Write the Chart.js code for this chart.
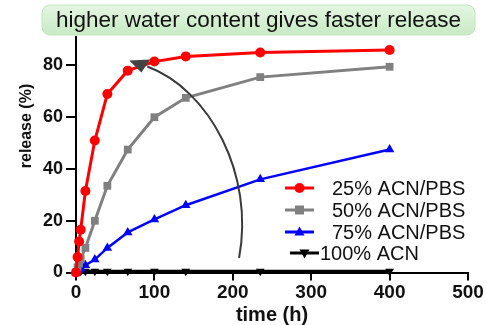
<!DOCTYPE html>
<html>
<head>
<meta charset="utf-8">
<script src="https://cdn.jsdelivr.net/npm/chart.js@4/dist/chart.umd.min.js"></script>
<style>
  html, body { margin: 0; padding: 0; background: #fff; }
  #wrap { width: 487px; height: 325px; }
</style>
</head>
<body>
<div id="wrap"><canvas id="c" width="487" height="325"></canvas></div>
<script>
// sampling times (h)
const times = [0, 2, 4, 6, 12, 24, 40, 66, 100, 140, 235, 400];
// cumulative release (%) per solvent composition
const acn25 = [0, 6, 12, 16.5, 31.5, 51, 69, 78, 81.5, 83.5, 85, 86];
const acn50 = [0, 2, 3.5, 5.3, 9.5, 20, 33.5, 47.5, 60, 67.5, 75.5, 79.5];
const acn75 = [0, 0.5, 1, 1.5, 2.8, 5, 9.5, 15.5, 20.5, 26, 36, 47.5];
const acn100 = [0.5, 0.5, 0.5, 0.5, 0.5, 0.5, 0.5, 0.5, 0.5, 0.5, 0.5, 0.5];
const seriesLabels = ['25% ACN/PBS', '50% ACN/PBS', '75% ACN/PBS', '100% ACN'];
const yTicks = [0, 20, 40, 60, 80];
const xTicks = [0, 100, 200, 300, 400, 500];
const headline = 'higher water content gives faster release';
const yTitle = 'release (%)';
// curved trend arrow (data units): start, two control points, end
const arrowPath = [[208, 5.6], [228, 38], [170, 70.7], [91, 79.6]];

const FONT = '"Liberation Sans", Arial, sans-serif';
const pts = arr => times.map((t, i) => ({ x: t, y: arr[i] }));

// green rounded banner above the plot, plus the vertical axis caption
const headlinePlugin = {
  id: 'headline',
  beforeDraw(chart) {
    const ctx = chart.ctx;
    const x = 42, y = 5, w = 433, h = 30, r = 8;
    ctx.save();
    const g = ctx.createLinearGradient(0, y, 0, y + h);
    g.addColorStop(0, '#e4f6e2');
    g.addColorStop(1, '#c8eac4');
    ctx.fillStyle = g;
    ctx.beginPath();
    ctx.roundRect(x, y, w, h, r);
    ctx.fill();
    ctx.strokeStyle = '#c2e4be';
    ctx.lineWidth = 1;
    ctx.stroke();
    ctx.fillStyle = '#111';
    ctx.font = '22.5px ' + FONT;
    ctx.textAlign = 'center';
    ctx.textBaseline = 'middle';
    ctx.fillText(headline, x + w / 2, y + h / 2 + 1);

    ctx.translate(27, 126);
    ctx.rotate(-Math.PI / 2);
    ctx.font = 'bold 16px ' + FONT;
    ctx.fillText(yTitle, 0, 0);
    ctx.restore();
  }
};

// dark curved arrow with a downward head
const arrowPlugin = {
  id: 'trendArrow',
  afterDatasetsDraw(chart) {
    const { ctx, scales: { x, y } } = chart;
    const p = arrowPath.map(([t, v]) => [x.getPixelForValue(t), y.getPixelForValue(v)]);
    ctx.save();
    ctx.strokeStyle = '#3a3a3a';
    ctx.lineWidth = 2;
    ctx.beginPath();
    ctx.moveTo(p[0][0], p[0][1]);
    ctx.bezierCurveTo(p[1][0], p[1][1], p[2][0], p[2][1], p[3][0], p[3][1]);
    ctx.stroke();
    // head
    const hx = p[3][0] - 7, hy = p[3][1] - 2;
    ctx.fillStyle = '#444';
    ctx.beginPath();
    ctx.moveTo(hx - 11, hy - 4);
    ctx.lineTo(hx + 10, hy - 5);
    ctx.lineTo(hx + 1, hy + 8);
    ctx.closePath();
    ctx.fill();
    ctx.restore();
  }
};

function drawMarker(ctx, style, cx, cy, r, color) {
  ctx.fillStyle = color;
  ctx.beginPath();
  if (style === 'circle') {
    ctx.arc(cx, cy, r, 0, Math.PI * 2);
  } else if (style === 'rect') {
    ctx.rect(cx - r, cy - r, 2 * r, 2 * r);
  } else if (style === 'triangle') {
    ctx.moveTo(cx, cy - r * 1.1);
    ctx.lineTo(cx + r, cy + r * 0.7);
    ctx.lineTo(cx - r, cy + r * 0.7);
  } else {
    ctx.moveTo(cx, cy + r * 1.1);
    ctx.lineTo(cx + r, cy - r * 0.7);
    ctx.lineTo(cx - r, cy - r * 0.7);
  }
  ctx.closePath();
  ctx.fill();
}

// legend inside the plot, lower right
const legendPlugin = {
  id: 'insetLegend',
  afterDraw(chart) {
    const ctx = chart.ctx;
    const rows = [188, 210, 232, 253];
    const lineStart = [285, 285, 285, 290];
    const textStart = [332, 332, 332, 320];
    ctx.save();
    ctx.font = '20px ' + FONT;
    ctx.textBaseline = 'middle';
    ctx.textAlign = 'left';
    chart.data.datasets.forEach((ds, i) => {
      const y = rows[i];
      ctx.strokeStyle = ds.borderColor;
      ctx.lineWidth = 3;
      ctx.beginPath();
      ctx.moveTo(lineStart[i], y);
      ctx.lineTo(lineStart[i] + 29, y);
      ctx.stroke();
      const style = ds.pointRotation === 180 ? 'down' : ds.pointStyle;
      drawMarker(ctx, style, lineStart[i] + 14.5, y, style === 'rect' ? 4.5 : 5, ds.borderColor);
      ctx.fillStyle = '#111';
      ctx.fillText(ds.label, textStart[i], y + 1);
    });
    ctx.restore();
  }
};

const mk = (label, arr, color, style, radius, width, rot) => ({
  label, data: pts(arr), borderColor: color, backgroundColor: color,
  borderWidth: width, pointStyle: style, pointRadius: radius, pointRotation: rot || 0,
  pointBorderWidth: 0, pointHoverRadius: radius, tension: 0, clip: false
});

new Chart(document.getElementById('c'), {
  type: 'line',
  data: {
    datasets: [
      mk(seriesLabels[0], acn25, '#ff0000', 'circle', 5, 3),
      mk(seriesLabels[1], acn50, '#808080', 'rect', 5.5, 3),
      mk(seriesLabels[2], acn75, '#0000ff', 'triangle', 5.5, 2.5),
      mk(seriesLabels[3], acn100, '#000000', 'triangle', 5, 3, 180)
    ]
  },
  plugins: [headlinePlugin, arrowPlugin, legendPlugin],
  options: {
    responsive: false,
    animation: false,
    devicePixelRatio: 1,
    layout: { padding: { left: 0, right: 19, top: 37, bottom: 0 } },
    plugins: { legend: { display: false }, tooltip: { enabled: false }, title: { display: false } },
    scales: {
      x: {
        type: 'linear', min: 0, max: 500,
        afterFit(s) { s.height = 52.5; },
        afterBuildTicks(s) { s.ticks = xTicks.map(v => ({ value: v })); },
        grid: { display: true, drawOnChartArea: false, drawTicks: true, tickLength: 8, color: '#000', lineWidth: 2 },
        border: { display: true, color: '#000', width: 2 },
        ticks: { color: '#111', padding: 1, maxRotation: 0, font: { family: FONT, size: 19, weight: 'bold' } },
        title: { display: true, text: 'time (h)', color: '#111', padding: { top: 0, bottom: 0 },
          font: { family: FONT, size: 20, weight: 'bold', lineHeight: 1 } }
      },
      y: {
        type: 'linear', min: 0, max: 91,
        afterFit(s) { s.width = 76; },
        afterBuildTicks(s) { s.ticks = yTicks.map(v => ({ value: v })); },
        grid: { display: true, drawOnChartArea: false, drawTicks: true, tickLength: 10, color: '#000', lineWidth: 2 },
        border: { display: true, color: '#000', width: 2 },
        ticks: { color: '#111', padding: 3, font: { family: FONT, size: 18, weight: 'bold' } },
        title: { display: false }
      }
    }
  }
});
</script>
</body>
</html>
